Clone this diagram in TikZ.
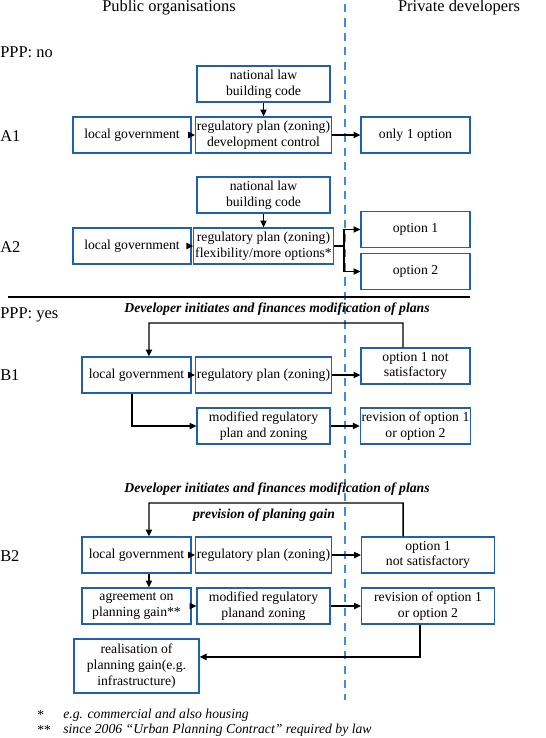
\documentclass[tikz,border=0pt]{standalone}
\usepackage{fontspec}
\setmainfont{Liberation Serif}
\usetikzlibrary{arrows.meta,positioning}
\definecolor{boxblue}{HTML}{1F5FB4}
\definecolor{splitblue}{HTML}{3D8BE8}

\begin{document}
\begin{tikzpicture}[x=0.73pt,y=-0.73pt,
 box/.style={draw=boxblue,line width=0.9pt,align=center,font=\fontsize{10}{11.5}\selectfont,inner sep=1pt,minimum height=26.3pt},
 mid/.style={box,minimum width=97.1pt},
 lg/.style={box,minimum width=86.1pt},
 small/.style={box,minimum width=79.6pt},
 arr/.style={line width=1pt,-{Triangle[length=5pt,width=4.6pt]}},
 lbl/.style={anchor=west,inner sep=0pt,font=\fontsize{12}{14}\selectfont},
 head/.style={inner sep=0pt,font=\fontsize{12}{14}\selectfont},
 note/.style={inner sep=0pt,font=\fontsize{10}{12}\selectfont\bfseries\itshape},
 foot/.style={anchor=west,inner sep=0pt,font=\fontsize{10}{12}\selectfont\itshape}]
\useasboundingbox(0,0)rectangle(545,738);
% headers and split
\node[head](pub)at(169,8){Public organisations};
\node[head](priv)at(459,8){Private developers};
\coordinate(splitT)at(345,4);
\coordinate(splitB)at(345,700);
\draw[splitblue,line width=0.8pt,dash pattern=on 6pt off 4.5pt](splitT)--(splitB);
\node[lbl](pppno)at(0,52){PPP: no};
% A1
\node[lbl](A1)at(0,136){A1};
\node[mid](A1law)at(263.5,84){national law\\building code};
\node[lg](A1lg)at(132,135){local government};
\node[mid](A1reg)at(263.5,135){regulatory plan (zoning)\\development control};
\node[small](A1opt)at(415.5,135){only 1 option};
\draw[arr](A1law)--(A1reg);
\draw[arr](A1lg)--(A1reg);
\draw[arr](A1reg)--(A1opt);
% A2
\node[lbl](A2)at(0,247){A2};
\node[mid](A2law)at(263.5,195){national law\\building code};
\node[lg](A2lg)at(132,246){local government};
\node[mid](A2reg)at(263.5,246){regulatory plan (zoning)\\flexibility/more options*};
\node[small](A2o1)at(415.5,229.5){option 1};
\node[small](A2o2)at(415.5,271.5){option 2};
\coordinate(A2fork)at(344,246);
\draw[arr](A2law)--(A2reg);
\draw[arr](A2lg)--(A2reg);
\draw[line width=1pt](A2reg)--(A2fork);
\draw[arr](A2fork)|-(A2o1);
\draw[arr](A2fork)|-(A2o2);
% separator
\coordinate(sepL)at(8,297);
\coordinate(sepR)at(470,297);
\draw[line width=1.1pt](sepL)--(sepR);
\node[lbl](pppyes)at(0,315){PPP: yes};
% B1
\node[lbl](B1)at(0,375){B1};
\node[note](B1dev)at(277,309){Developer initiates and finances modification of plans};
\node[small](B1lg)at(136.5,375){local government};
\node[mid](B1reg)at(263.5,375){regulatory plan (zoning)};
\node[small](B1opt)at(415.5,366){option 1 not\\satisfactory};
\node[mid](B1mod)at(263.5,426){modified regulatory\\plan and zoning};
\node[small](B1rev)at(415.5,426){revision of option 1\\or option 2};
\coordinate(B1top)at(149,323);
\draw[arr]([xshift=-9.1pt]B1opt.north)|-(B1top)--([xshift=9.1pt]B1lg.north);
\draw[arr](B1lg)--(B1reg);
\draw[arr](B1reg.east)--(B1reg.east-|B1opt.west);
\draw[arr]([xshift=-3.3pt]B1lg.south)|-(B1mod.west);
\draw[arr](B1mod)--(B1rev);
% B2
\node[lbl](B2)at(0,556){B2};
\node[note](B2dev)at(277,489){Developer initiates and finances modification of plans};
\node[note](B2gain)at(264,515){prevision of planing gain};
\node[small](B2lg)at(136.5,555){local government};
\node[mid](B2reg)at(263.5,555){regulatory plan (zoning)};
\node[mid](B2opt)at(428,555){option 1\\not satisfactory};
\node[small](B2agr)at(136.5,606){agreement on\\planning gain**};
\node[mid](B2mod)at(263.5,606){modified regulatory\\planand zoning};
\node[mid](B2rev)at(428,606){revision of option 1\\or option 2};
\node[box,minimum width=91.3pt,minimum height=39.4pt](B2real)at(136.5,666){realisation of\\planning gain(e.g.\\infrastructure)};
\coordinate(B2top)at(149,503);
\draw[arr]([xshift=-18.2pt]B2opt.north)|-(B2top)--([xshift=9.1pt]B2lg.north);
\draw[arr](B2lg)--(B2reg);
\draw[arr](B2reg)--(B2opt);
\draw[arr]([xshift=9.1pt]B2lg.south)--([xshift=9.1pt]B2agr.north);
\draw[arr](B2agr)--(B2mod);
\draw[arr](B2mod)--(B2rev);
\draw[arr]([xshift=-5.8pt]B2rev.south)|-([yshift=6.6pt]B2real.east);
% footnotes
\node[foot](fn1)at(37,715){\upshape*};
\node[foot](fn1t)at(63,715){e.g. commercial and also housing};
\node[foot](fn2)at(37,730){\upshape**};
\node[foot](fn2t)at(63,730){since 2006 “Urban Planning Contract” required by law};
\end{tikzpicture}
\end{document}
